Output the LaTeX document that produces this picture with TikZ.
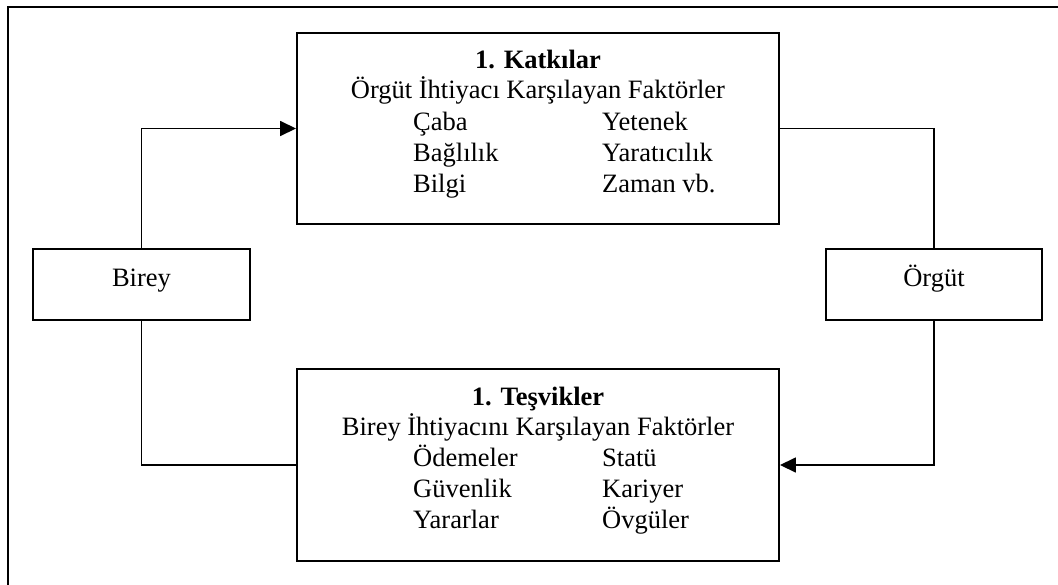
\documentclass[tikz,border=0pt]{standalone}
\usepackage{fontspec}
\setmainfont{Liberation Serif}
\usetikzlibrary{arrows.meta}
\begin{document}
\begin{tikzpicture}[x=1pt,y=-1pt,
  box/.style={draw, line width=1.9pt, rectangle, inner sep=0pt},
  conn/.style={line width=1.6pt},
  arr/.style={conn, -{Triangle[length=16pt,width=15pt]}},
  txt/.style={inner sep=0pt, font=\fontsize{26.5}{31}\selectfont},
  ttl/.style={txt, font=\fontsize{26.5}{31}\selectfont\bfseries}]
\useasboundingbox (0,0) rectangle (1058,584);
\draw[line width=2.4pt] (8,590) -- (8,7) -- (1065,7);
% boxes
\node[box, minimum width=482pt, minimum height=191pt] (top) at (538,128.5) {};
\node[box, minimum width=482pt, minimum height=192pt] (bot) at (538,465) {};
\node[box, minimum width=217pt, minimum height=71pt] (birey) at (141.5,284.5) {};
\node[box, minimum width=216pt, minimum height=71pt] (orgut) at (934,284.5) {};
% texts
\node[txt, anchor=base] (birt) at (141.5,286) {Birey};
\node[txt, anchor=base] (orgt) at (934,286) {Örgüt};
\node[ttl, anchor=base] (t1) at (538,68) {1. Katkılar};
\node[txt, anchor=base] (t2) at (538,98) {Örgüt İhtiyacı Karşılayan Faktörler};
\node[txt, anchor=base west] (a1) at (413,130) {Çaba};
\node[txt, anchor=base west] (a2) at (413,161) {Bağlılık};
\node[txt, anchor=base west] (a3) at (413,192) {Bilgi};
\node[txt, anchor=base west] (b1) at (602,130) {Yetenek};
\node[txt, anchor=base west] (b2) at (602,161) {Yaratıcılık};
\node[txt, anchor=base west] (b3) at (602,192) {Zaman vb.};
\node[ttl, anchor=base] (s1) at (538,405) {1. Teşvikler};
\node[txt, anchor=base] (s2) at (538,435) {Birey İhtiyacını Karşılayan Faktörler};
\node[txt, anchor=base west] (c1) at (413,466) {Ödemeler};
\node[txt, anchor=base west] (c2) at (413,497) {Güvenlik};
\node[txt, anchor=base west] (c3) at (413,528) {Yararlar};
\node[txt, anchor=base west] (d1) at (602,466) {Statü};
\node[txt, anchor=base west] (d2) at (602,497) {Kariyer};
\node[txt, anchor=base west] (d3) at (602,528) {Övgüler};
% connectors
\draw[arr] (birey.north) |- (top.west);
\draw[conn] (top.east) -| (orgut.north);
\draw[arr] (orgut.south) |- (bot.east);
\draw[conn] (bot.west) -| (birey.south);
\end{tikzpicture}
\end{document}
